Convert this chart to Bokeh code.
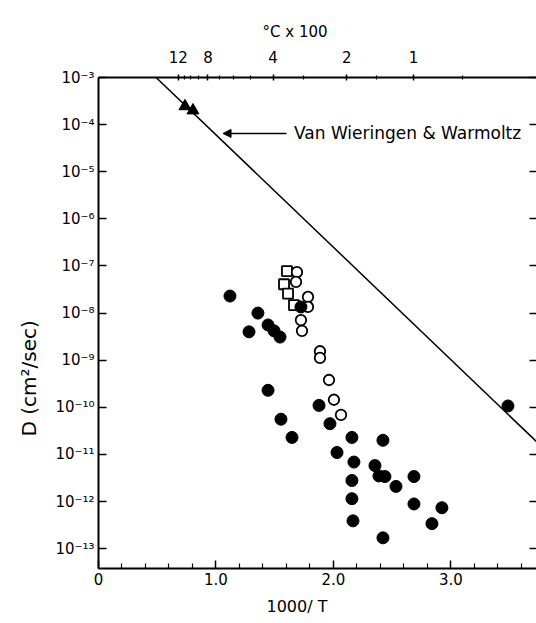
from bokeh.plotting import figure
from bokeh.models import (Range1d, LinearAxis, LogAxis, FixedTicker, Title,
                          CustomJSTickFormatter, Label, Arrow, NormalHead)
from bokeh.embed import file_html
from bokeh.resources import INLINE

FONT = "DejaVu Sans"

# Diffusion coefficients D (cm^2/sec) against 1000/T (T in K)
filled_x = [1.119, 1.357, 1.281, 1.443, 1.494, 1.545, 1.443, 1.553, 1.647, 1.877,
            1.970, 2.157, 2.421, 2.030, 2.174, 2.353, 2.387, 2.438, 2.532, 2.685,
            2.157, 2.157, 2.685, 2.923, 2.166, 2.838, 2.421, 3.485, 1.723]
filled_D = [2.3e-8, 1.0e-8, 4.0e-9, 5.6e-9, 4.2e-9, 3.1e-9, 2.3e-10, 5.6e-11, 2.3e-11, 1.1e-10,
            4.5e-11, 2.3e-11, 2.0e-11, 1.1e-11, 6.9e-12, 5.8e-12, 3.5e-12, 3.4e-12, 2.1e-12, 3.4e-12,
            2.8e-12, 1.15e-12, 8.9e-13, 7.4e-13, 3.9e-13, 3.4e-13, 1.7e-13, 1.07e-10, 1.35e-8]

open_x = [1.689, 1.681, 1.783, 1.783, 1.723, 1.732, 1.885, 1.885, 1.962, 2.004, 2.064]
open_D = [7.4e-8, 4.6e-8, 2.2e-8, 1.35e-8, 7.1e-9, 4.2e-9, 1.55e-9, 1.12e-9, 3.8e-10, 1.45e-10, 6.9e-11]

square_x = [1.604, 1.579, 1.613, 1.664]
square_D = [7.8e-8, 4.1e-8, 2.6e-8, 1.48e-8]

tri_x = [0.736, 0.804]
tri_D = [2.45e-4, 2.0e-4]

# Van Wieringen & Warmoltz relation (straight line on this plot)
vw_x = [0.49, 3.80]
vw_D = [1.0e-3, 1.26e-11]

# axis ticks
x_major = [0, 1, 2, 3]
x_minor = [0.2, 0.4, 0.6, 0.8, 1.2, 1.4, 1.6, 1.8, 2.2, 2.4, 2.6, 2.8, 3.2, 3.4, 3.6]
y_decades = list(range(-3, -14, -1))
celsius_major = [1200, 800, 400, 200, 100]
celsius_minor = [1100, 1000, 900, 700, 600, 500, 300, 150, 50]

y_ticks = [10.0 ** k for k in y_decades]
top_major = [1000.0 / (c + 273.0) for c in celsius_major]
top_minor = [1000.0 / (c + 273.0) for c in celsius_minor]

p = figure(width=536, height=623,
           x_range=Range1d(0, 3.728), y_range=Range1d(3.8e-14, 1e-3),
           y_axis_type="log", output_backend="svg", toolbar_location=None,
           min_border_left=98, min_border_right=0, min_border_top=77, min_border_bottom=54)
p.outline_line_color = None
p.grid.visible = False
p.background_fill_color = "white"
p.border_fill_color = "white"


def style_axis(ax):
    ax.axis_line_color = "black"
    ax.axis_line_width = 2
    ax.major_tick_line_color = "black"
    ax.minor_tick_line_color = "black"
    ax.major_tick_line_width = 1.5
    ax.minor_tick_line_width = 1.2
    ax.major_label_text_font = FONT
    ax.major_label_text_font_size = "15px"
    ax.major_label_text_color = "black"


# bottom axis: 1000/T
xa = p.xaxis[0]
style_axis(xa)
xa.ticker = FixedTicker(ticks=x_major, minor_ticks=x_minor)
xa.formatter = CustomJSTickFormatter(code="return tick == 0 ? '0' : tick.toFixed(1);")
xa.major_tick_in = 8
xa.major_tick_out = 0
xa.minor_tick_in = 5
xa.minor_tick_out = 0
xa.major_label_standoff = 4

# left axis: D
ya = p.yaxis[0]
style_axis(ya)
ya.ticker = FixedTicker(ticks=y_ticks, minor_ticks=[])
ya.formatter = CustomJSTickFormatter(code="""
const sup = {'-': '\u207b', '0': '\u2070', '1': '\u00b9', '2': '\u00b2', '3': '\u00b3',
             '4': '\u2074', '5': '\u2075', '6': '\u2076', '7': '\u2077', '8': '\u2078', '9': '\u2079'};
const e = Math.round(Math.log10(tick));
return '10' + String(e).split('').map(c => sup[c]).join('');
""")
ya.major_tick_in = 8
ya.major_tick_out = 0
ya.minor_tick_in = 0
ya.minor_tick_out = 0
ya.major_label_standoff = 4

# top axis: temperature in degrees C x 100
top = LinearAxis(ticker=FixedTicker(ticks=top_major, minor_ticks=top_minor),
                 formatter=CustomJSTickFormatter(
                     code="const c = (1000 / tick - 273) / 100; return String(Math.round(c * 10) / 10);"))
style_axis(top)
top.major_tick_in = 3
top.major_tick_out = 3
top.minor_tick_in = 2
top.minor_tick_out = 2
top.major_label_standoff = 12
p.add_layout(top, "above")

# right axis: ticks only
right = LogAxis(ticker=FixedTicker(ticks=y_ticks, minor_ticks=[]),
                formatter=CustomJSTickFormatter(code="return '';"))
right.axis_line_color = None
right.major_tick_line_color = "black"
right.major_tick_line_width = 1.5
right.major_tick_in = 7
right.major_tick_out = 0
right.minor_tick_in = 0
right.minor_tick_out = 0
right.major_label_standoff = 0
right.major_label_text_font_size = "1px"
p.add_layout(right, "right")

# axis titles, placed outside the axes
p.add_layout(Title(text="1000/ T", align="left", offset=168, standoff=15,
                   text_font=FONT, text_font_size="16px", text_font_style="normal",
                   text_color="black"), "below")
p.add_layout(Title(text="\u00b0C x 100", align="left", offset=164, standoff=13,
                   text_font=FONT, text_font_size="15px", text_font_style="normal",
                   text_color="black"), "above")
p.add_layout(Title(text="D  (cm\u00b2/sec)", align="left", offset=132, standoff=24,
                   text_font=FONT, text_font_size="20px", text_font_style="normal",
                   text_color="black"), "left")

# data
p.line(vw_x, vw_D, line_color="black", line_width=1.5)
p.scatter(tri_x, tri_D, marker="triangle", size=12, fill_color="black", line_color="black")
p.scatter(square_x, square_D, marker="square", size=10, fill_color="white",
          line_color="black", line_width=1.8)
p.scatter(open_x, open_D, marker="circle", size=10.5, fill_color="white",
          line_color="black", line_width=1.8)
p.scatter(filled_x, filled_D, marker="circle", size=12, fill_color="black", line_color="black")

# annotation for the reference line
p.add_layout(Arrow(end=NormalHead(size=8, fill_color="black", line_color="black"),
                   x_start=1.60, y_start=6.5e-5, x_end=1.06, y_end=6.5e-5,
                   line_color="black", line_width=1.5))
p.add_layout(Label(x=1.664, y=6.5e-5, text="Van Wieringen & Warmoltz",
                   text_baseline="middle", text_align="left",
                   text_font=FONT, text_font_size="17px", text_color="black"))

open("out.html", "w").write(file_html(p, INLINE))
